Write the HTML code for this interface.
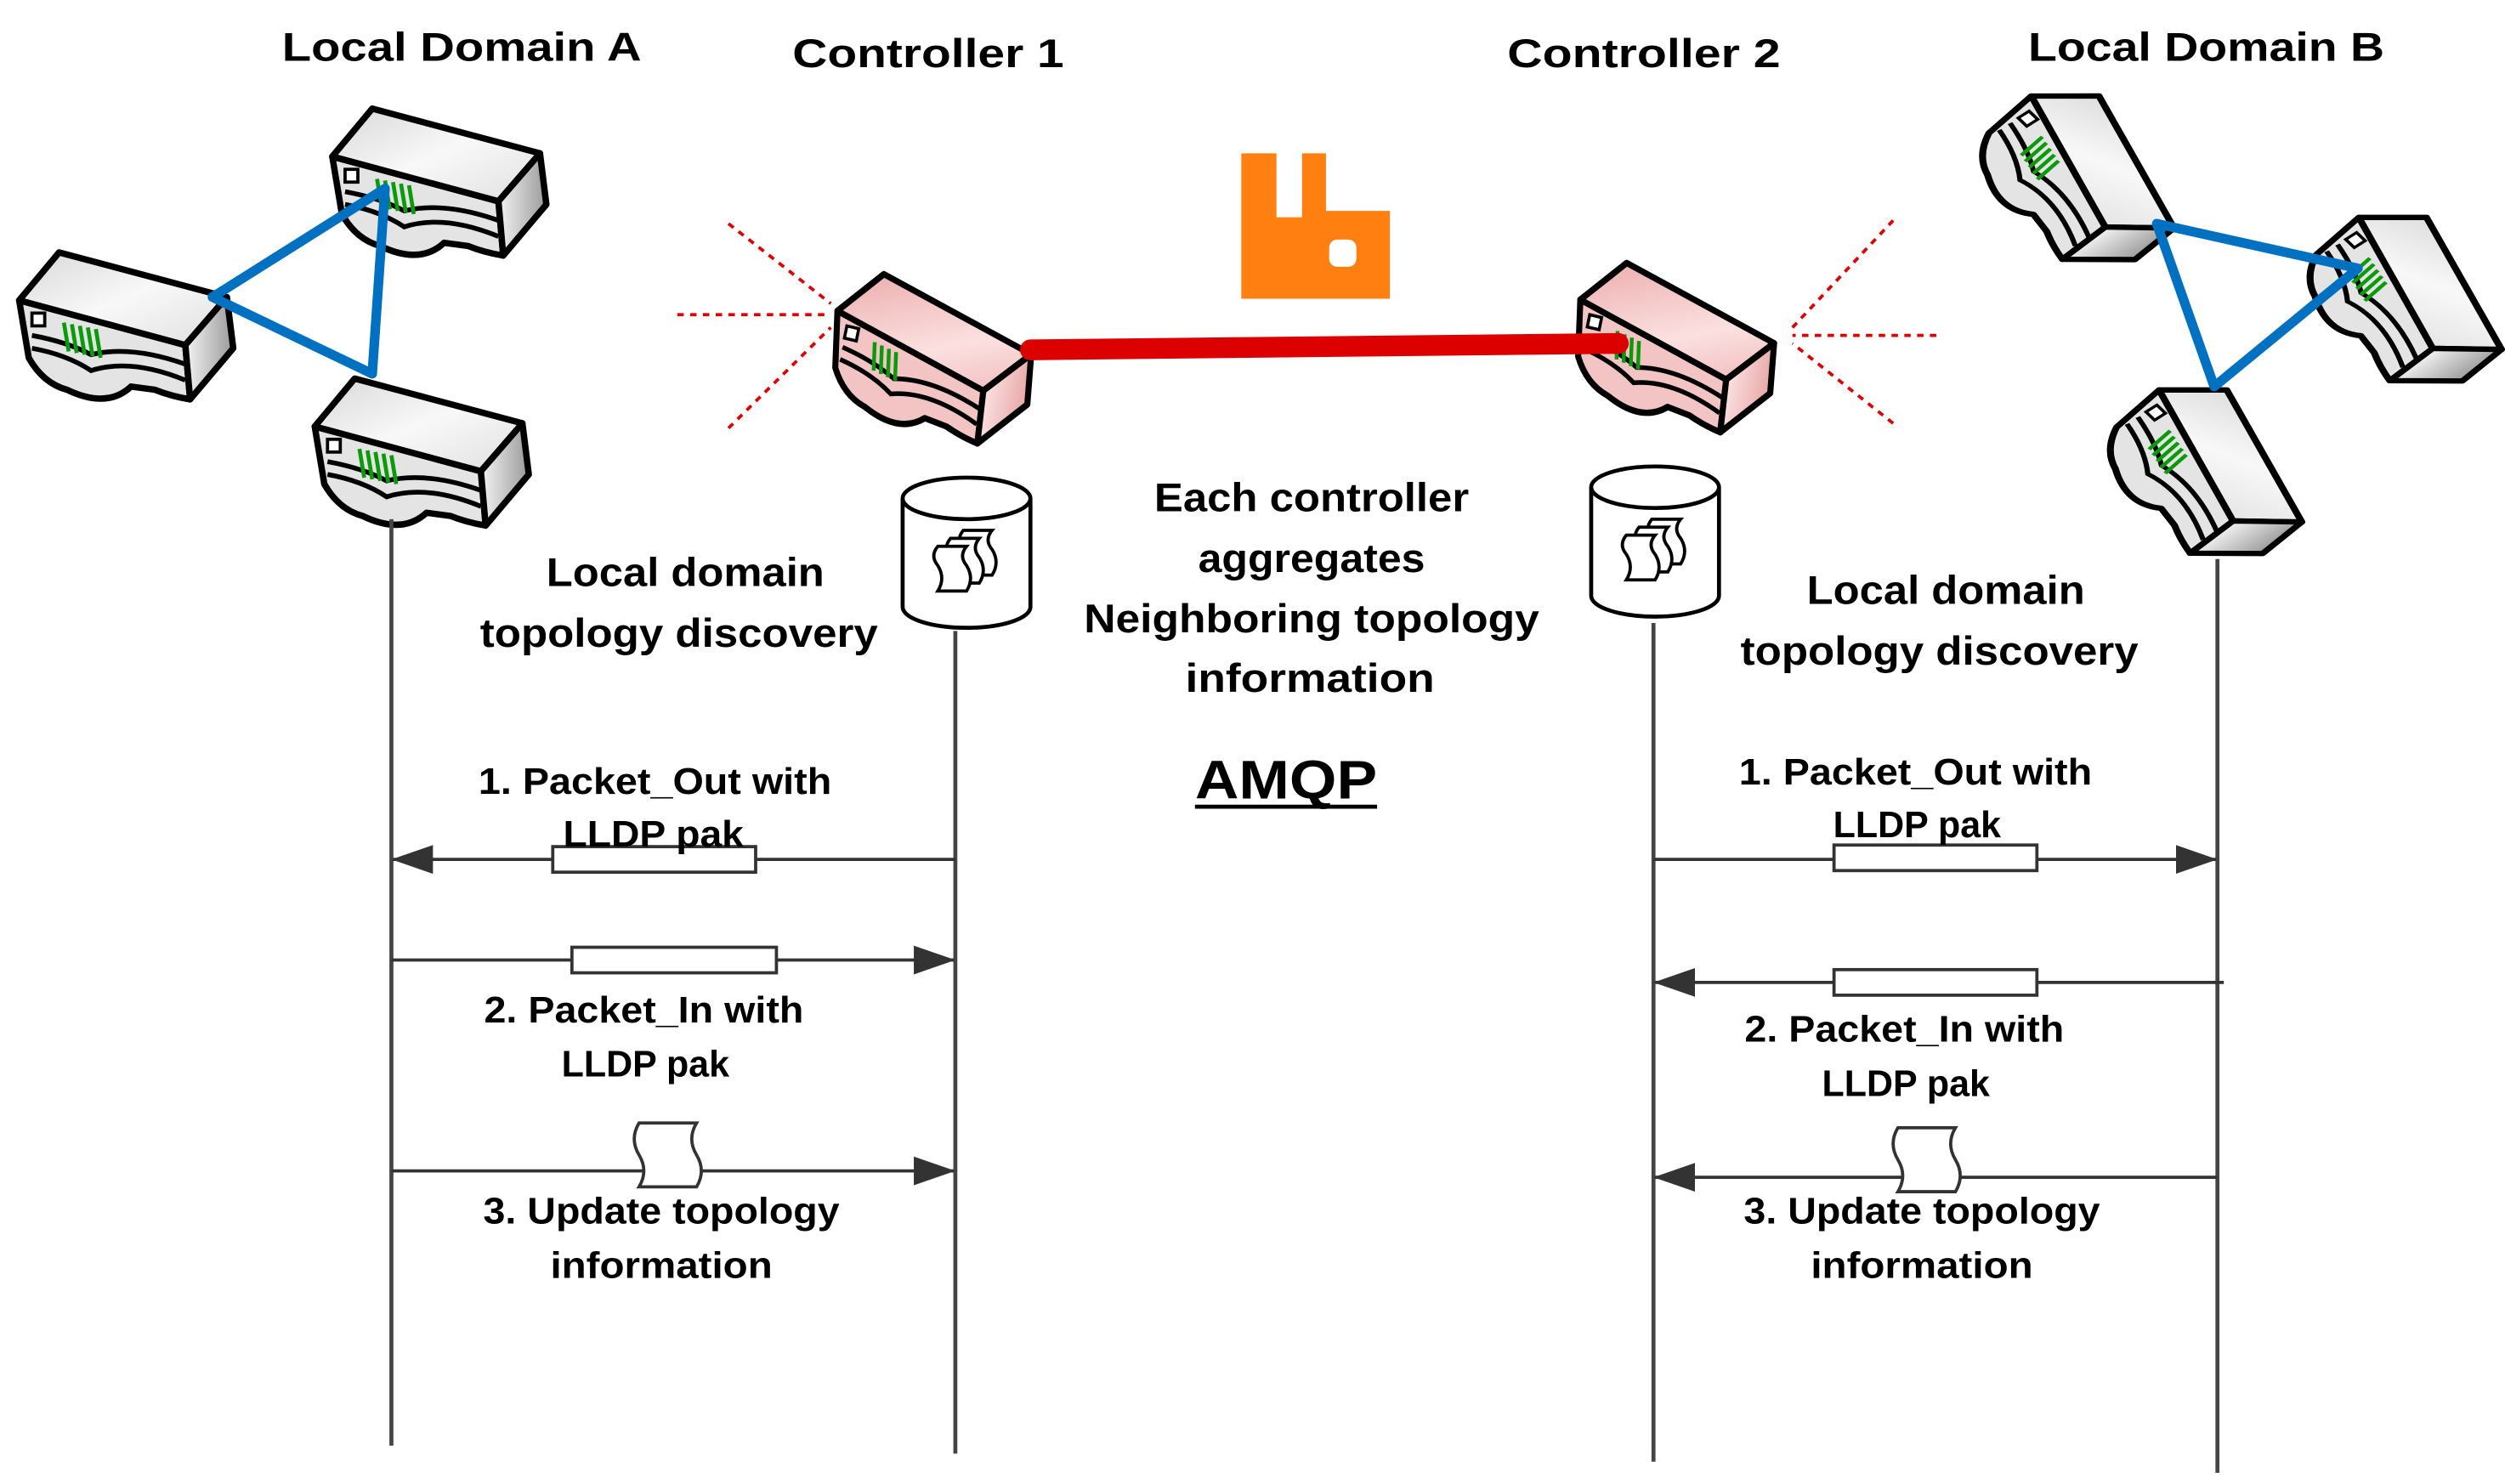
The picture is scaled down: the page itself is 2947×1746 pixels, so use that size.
<!DOCTYPE html>
<html><head><meta charset="utf-8"><style>
html,body{margin:0;padding:0;background:#fff;}
svg{display:block;}
text{font-family:"Liberation Sans",sans-serif;font-weight:bold;fill:#000;}
</style></head><body>
<svg width="2947" height="1746" viewBox="0 0 1568 929" preserveAspectRatio="none" xmlns="http://www.w3.org/2000/svg">
<defs>
<linearGradient id="gt" x1="0" y1="0" x2="1" y2="1"><stop offset="0" stop-color="#d8d8d8"/><stop offset="0.5" stop-color="#f8f8f8"/><stop offset="1" stop-color="#e0e0e0"/></linearGradient>
<linearGradient id="gr" x1="0" y1="0" x2="1" y2="0"><stop offset="0" stop-color="#f4f4f4"/><stop offset="1" stop-color="#9a9a9a"/></linearGradient>
<linearGradient id="pt" x1="0" y1="0" x2="1" y2="1"><stop offset="0" stop-color="#eba9a9"/><stop offset="0.6" stop-color="#fbe0e0"/><stop offset="1" stop-color="#f0b8b8"/></linearGradient>
<linearGradient id="pr" x1="0" y1="0" x2="1" y2="0"><stop offset="0" stop-color="#fce4e4"/><stop offset="1" stop-color="#e7a5a5"/></linearGradient>
<g id="rg">
 <path d="M0,30 L104,58 L107,92 Q95,90 85,86 L70,84 Q55,98 30,86 Q15,82 6,66 Z" fill="#e4e4e4" stroke="#000" stroke-width="4" stroke-linejoin="round"/>
 <path d="M8,52 Q30,56 45,64 Q70,58 104,70 M8,60 Q30,64 45,74 Q70,66 104,80" fill="none" stroke="#000" stroke-width="3"/>
 <path d="M0,30 L25,0 L130,28 L104,58 Z" fill="url(#gt)" stroke="#000" stroke-width="4" stroke-linejoin="round"/>
 <path d="M104,58 L130,28 L134,60 L107,92 Z" fill="url(#gr)" stroke="#000" stroke-width="4" stroke-linejoin="round"/>
 <rect x="8" y="38" width="8" height="8" fill="#fff" stroke="#000" stroke-width="2"/>
 <path d="M28,44 l3,18 M33,45 l3,18 M38,46 l3,18 M43,47 l3,18 M48,48 l3,18" stroke="#0a9a0a" stroke-width="2.5" fill="none"/>
</g>
<g id="rp">
 <path d="M0,30 L104,58 L107,92 Q95,90 85,86 L70,84 Q55,98 30,86 Q15,82 6,66 Z" fill="#f2c4c4" stroke="#000" stroke-width="4" stroke-linejoin="round"/>
 <path d="M8,52 Q30,56 45,64 Q70,58 104,70 M8,60 Q30,64 45,74 Q70,66 104,80" fill="none" stroke="#000" stroke-width="3"/>
 <path d="M0,30 L25,0 L130,28 L104,58 Z" fill="url(#pt)" stroke="#000" stroke-width="4" stroke-linejoin="round"/>
 <path d="M104,58 L130,28 L134,60 L107,92 Z" fill="url(#pr)" stroke="#000" stroke-width="4" stroke-linejoin="round"/>
 <rect x="8" y="38" width="8" height="8" fill="#fff" stroke="#000" stroke-width="2"/>
 <path d="M28,44 l3,18 M33,45 l3,18 M38,46 l3,18 M43,47 l3,18" stroke="#0a9a0a" stroke-width="2.5" fill="none"/>
</g>
<g id="doc">
 <path d="M0,10 h18 q-5,6 0,12 q5,8 0,16 h-18 q5,-8 0,-16 q-5,-6 0,-12 Z" fill="#fff" stroke="#000" stroke-width="2"/>
</g>
<g id="db">
 <path d="M-40,12 L-40,80 A40,13 0 0 0 40,80 L40,12" fill="#fff" stroke="#000" stroke-width="2.5"/>
 <ellipse cx="0" cy="12" rx="40" ry="13" fill="#fff" stroke="#000" stroke-width="2.5"/>
 <use href="#doc" x="-2" y="22"/>
 <use href="#doc" x="-10" y="27"/>
 <use href="#doc" x="-18" y="32"/>
</g>
<marker id="ah2" markerWidth="26" markerHeight="18" refX="25" refY="9" orient="auto" markerUnits="userSpaceOnUse"><path d="M0,0 L26,9 L0,18 Z" fill="#333"/></marker>
</defs>

<!-- domain A routers -->
<use href="#rg" x="12" y="158"/>
<use href="#rg" x="208" y="68"/>
<use href="#rg" x="197" y="237"/>
<path d="M133,186 L241,118 L233,234 Z" fill="none" stroke="#0070c0" stroke-width="6" stroke-linejoin="round"/>

<!-- domain B routers -->
<use href="#rg" transform="matrix(0.674,0.644,-0.85,0.537,1297,44)"/>
<use href="#rg" transform="matrix(0.674,0.644,-0.85,0.537,1502,120)"/>
<use href="#rg" transform="matrix(0.674,0.644,-0.85,0.537,1377,228)"/>
<path d="M1350,140 L1476,168 L1386,242 Z" fill="none" stroke="#0070c0" stroke-width="6" stroke-linejoin="round"/>

<!-- controllers -->
<use href="#rp" transform="matrix(0.93,0.224,-0.193,0.953,530,166)"/>
<use href="#rp" transform="matrix(0.93,0.224,-0.193,0.953,995,159)"/>
<line x1="645" y1="219" x2="1013" y2="215" stroke="#dd0000" stroke-width="13" stroke-linecap="round"/>

<!-- red dotted -->
<g stroke="#e00000" stroke-width="2" stroke-dasharray="4,4" fill="none">
 <line x1="424" y1="197" x2="520" y2="197"/>
 <line x1="456" y1="140" x2="520" y2="190"/>
 <line x1="456" y1="268" x2="520" y2="205"/>
 <line x1="1212" y1="210" x2="1122" y2="210"/>
 <line x1="1185" y1="138" x2="1122" y2="205"/>
 <line x1="1185" y1="265" x2="1122" y2="215"/>
</g>

<!-- rabbitmq logo -->
<path d="M777,96 h22 v40 h16 v-40 h15 v36 h40 v55 h-93 Z" fill="#ff8010"/>
<rect x="832" y="150" width="17" height="17" rx="5" fill="#fff"/>

<!-- databases -->
<use href="#db" x="605" y="300"/>
<use href="#db" x="1036" y="293"/>

<!-- lifelines -->
<g stroke="#444" stroke-width="2.5">
 <line x1="245" y1="325" x2="245" y2="905"/>
 <line x1="598" y1="395" x2="598" y2="910"/>
 <line x1="1035" y1="390" x2="1035" y2="915"/>
 <line x1="1388" y1="350" x2="1388" y2="922"/>
</g>

<!-- messages -->
<g stroke="#333" stroke-width="2" fill="none">
 <line x1="598" y1="538" x2="246" y2="538" marker-end="url(#ah2)"/>
 <line x1="245" y1="601" x2="597" y2="601" marker-end="url(#ah2)"/>
 <line x1="245" y1="733" x2="597" y2="733" marker-end="url(#ah2)"/>
 <line x1="1035" y1="538" x2="1387" y2="538" marker-end="url(#ah2)"/>
 <line x1="1392" y1="615" x2="1036" y2="615" marker-end="url(#ah2)"/>
 <line x1="1388" y1="737" x2="1036" y2="737" marker-end="url(#ah2)"/>
</g>
<g fill="#fff" stroke="#333" stroke-width="2">
 <rect x="346" y="530" width="127" height="16"/>
 <rect x="358" y="593" width="128" height="16"/>
 <rect x="1148" y="529" width="127" height="16"/>
 <rect x="1148" y="607" width="127" height="16"/>
 <path d="M400,703 h36 q-6,10 0,20 q6,10 0,20 h-36 q6,-10 0,-20 q-6,-10 0,-20 Z"/>
 <path d="M1188,706 h36 q-6,10 0,20 q6,10 0,20 h-36 q6,-10 0,-20 q-6,-10 0,-20 Z"/>
</g>

<!-- text -->
<g font-size="25" text-anchor="middle">
 <text x="289" y="38" textLength="225" lengthAdjust="spacingAndGlyphs">Local Domain A</text>
 <text x="581" y="42" textLength="170" lengthAdjust="spacingAndGlyphs">Controller 1</text>
 <text x="1029" y="42" textLength="171" lengthAdjust="spacingAndGlyphs">Controller 2</text>
 <text x="1381" y="38" textLength="223" lengthAdjust="spacingAndGlyphs">Local Domain B</text>

 <text x="429" y="367" textLength="174" lengthAdjust="spacingAndGlyphs">Local domain</text>
 <text x="425" y="405" textLength="249" lengthAdjust="spacingAndGlyphs">topology discovery</text>
 <text x="1218" y="378" textLength="174" lengthAdjust="spacingAndGlyphs">Local domain</text>
 <text x="1214" y="416" textLength="249" lengthAdjust="spacingAndGlyphs">topology discovery</text>

 <text x="821" y="320" textLength="197" lengthAdjust="spacingAndGlyphs">Each controller</text>
 <text x="821" y="358" textLength="142" lengthAdjust="spacingAndGlyphs">aggregates</text>
 <text x="821" y="396" textLength="285" lengthAdjust="spacingAndGlyphs">Neighboring topology</text>
 <text x="820" y="433" textLength="156" lengthAdjust="spacingAndGlyphs">information</text>
 <text x="805" y="500" font-size="34" textLength="114" lengthAdjust="spacingAndGlyphs">AMQP</text>

 <text x="410" y="497" font-size="23" textLength="221" lengthAdjust="spacingAndGlyphs">1. Packet_Out with</text>
 <text x="409" y="530" font-size="23" textLength="113" lengthAdjust="spacingAndGlyphs">LLDP pak</text>
 <text x="403" y="640" font-size="23" textLength="200" lengthAdjust="spacingAndGlyphs">2. Packet_In with</text>
 <text x="404" y="674" font-size="23" textLength="105" lengthAdjust="spacingAndGlyphs">LLDP pak</text>
 <text x="414" y="766" font-size="23" textLength="223" lengthAdjust="spacingAndGlyphs">3. Update topology</text>
 <text x="414" y="800" font-size="23" textLength="139" lengthAdjust="spacingAndGlyphs">information</text>

 <text x="1199" y="491" font-size="23" textLength="221" lengthAdjust="spacingAndGlyphs">1. Packet_Out with</text>
 <text x="1200" y="524" font-size="23" textLength="105" lengthAdjust="spacingAndGlyphs">LLDP pak</text>
 <text x="1192" y="652" font-size="23" textLength="200" lengthAdjust="spacingAndGlyphs">2. Packet_In with</text>
 <text x="1193" y="686" font-size="23" textLength="105" lengthAdjust="spacingAndGlyphs">LLDP pak</text>
 <text x="1203" y="766" font-size="23" textLength="223" lengthAdjust="spacingAndGlyphs">3. Update topology</text>
 <text x="1203" y="800" font-size="23" textLength="139" lengthAdjust="spacingAndGlyphs">information</text>
</g>
<line x1="748" y1="505" x2="862" y2="505" stroke="#000" stroke-width="2.5"/>
</svg>
</body></html>
